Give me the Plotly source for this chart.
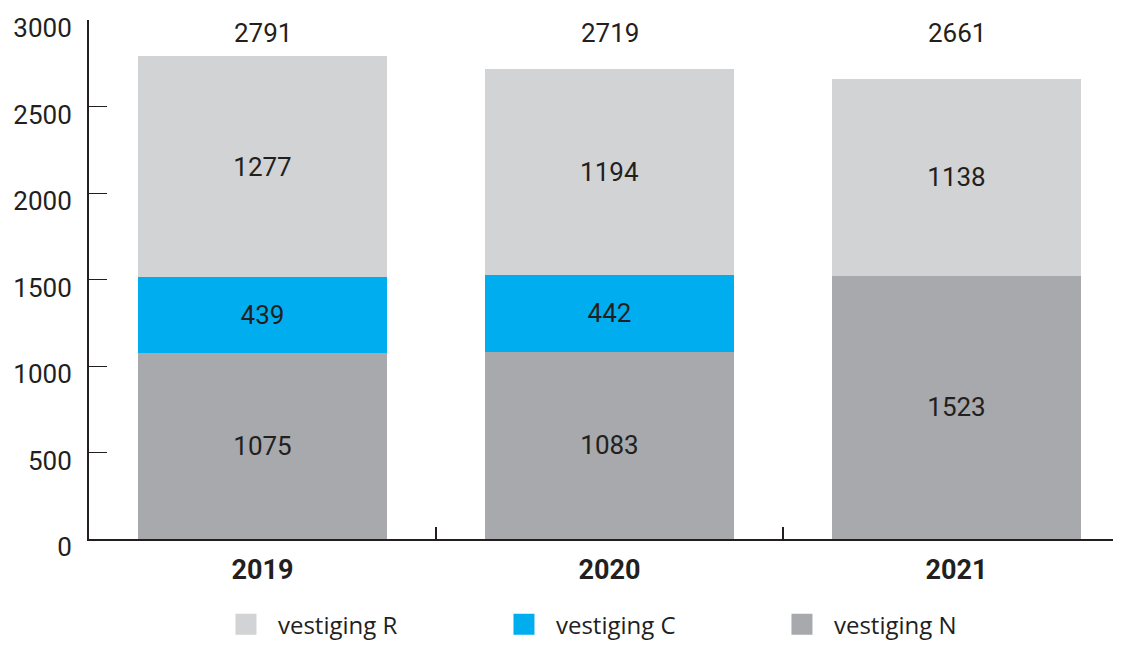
import plotly.graph_objects as go

years = ["2019", "2020", "2021"]
vestiging_n = [1075, 1083, 1523]
vestiging_c = [439, 442, 0]
vestiging_r = [1277, 1194, 1138]
totals = [2791, 2719, 2661]
y_ticks = [0, 500, 1000, 1500, 2000, 2500, 3000]

ink = "#231f20"
colors = {"vestiging N": "#a7a9ac", "vestiging C": "#00aeef", "vestiging R": "#d1d3d4"}
num_font = dict(family="Roboto", size=26, color=ink)

fig = go.Figure()

# stacked bars, bottom to top
for name, vals in [("vestiging N", vestiging_n), ("vestiging C", vestiging_c), ("vestiging R", vestiging_r)]:
    fig.add_trace(go.Bar(
        x=years, y=vals, name=name, showlegend=False,
        marker=dict(color=colors[name], line=dict(width=0)),
        text=[str(v) if v else "" for v in vals],
        textposition="inside", insidetextanchor="middle", textangle=0,
        textfont=num_font, cliponaxis=False,
    ))

# legend entries with big square swatches
for name in ["vestiging R", "vestiging C", "vestiging N"]:
    fig.add_trace(go.Scatter(
        x=[None], y=[None], mode="markers", name=name,
        marker=dict(symbol="square", size=16, color=colors[name],
                    line=dict(color=colors[name], width=5)),
    ))

# totals on top, at category index (string years would be cast to numbers)
for i, tot in enumerate(totals):
    fig.add_annotation(x=i, y=1, xref="x", yref="paper", text=str(tot),
                       showarrow=False, yanchor="middle", yshift=-13, font=num_font)

# page body has an 8px margin, so the figure is kept 16px smaller and shifted
fig.update_layout(
    width=1105, height=634,
    margin=dict(l=81, r=0, t=12, b=103),
    barmode="stack", bargap=0.28,
    plot_bgcolor="white", paper_bgcolor="white",
    font=dict(family="Roboto", color=ink),
    legend=dict(orientation="h", x=0.1864, xanchor="left", xref="container",
                y=0.0273, yanchor="middle", yref="container",
                itemwidth=54, entrywidth=209, entrywidthmode="pixels", traceorder="normal",
                font=dict(family="Open Sans", size=24, color=ink)),
    xaxis=dict(
        type="category", range=[-0.5, 2.451], automargin=False,
        showline=True, linecolor=ink, linewidth=2,
        ticks="inside", tickson="boundaries", ticklen=12, tickcolor=ink, tickwidth=1.5,
        tickfont=dict(family="Roboto", size=27, color=ink, weight="bold"),
        ticklabelstandoff=6, showgrid=False,
    ),
    yaxis=dict(
        range=[0, 3000], tickvals=y_ticks, automargin=False,
        showline=True, linecolor=ink, linewidth=2,
        ticks="inside", ticklen=18, tickcolor=ink, tickwidth=1.2,
        tickfont=num_font, ticklabelstandoff=10, ticklabelshift=8,
        showgrid=False, zeroline=False,
    ),
)

fig.write_html("out.html")
